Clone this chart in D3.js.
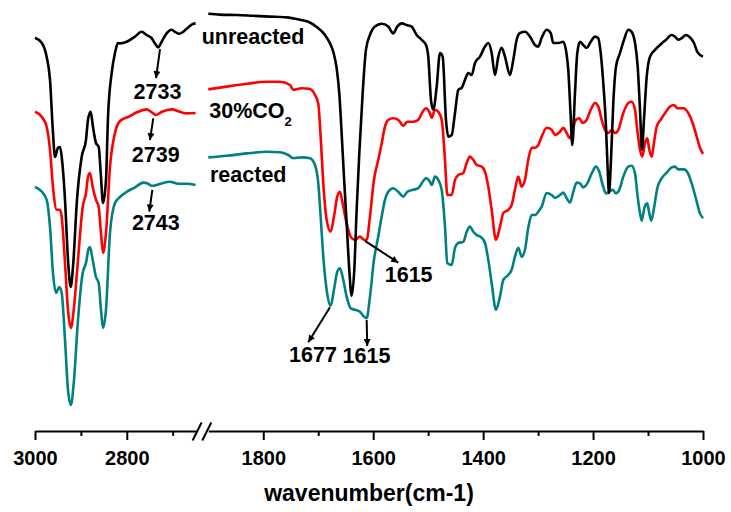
<!DOCTYPE html>
<html lang="en">
<head>
<meta charset="UTF-8">
<title>FTIR spectra</title>
<script src="https://d3js.org/d3.v7.min.js"></script>
<style>
  body { margin: 0; background: #fff; }
  svg { display: block; font-family: "Liberation Sans", Arial, sans-serif; font-weight: bold; }
  .tick text { font-size: 20px; font-weight: bold; fill: #000; }
</style>
</head>
<body>
<svg width="731" height="512"></svg>
<script>
// transmittance (a.u., offset traces) vs wavenumber, two windows of the spectrum
const unreactedHigh = [
  [3000,98.3],[2985,97],[2974.5,93.5],[2967.3,87.8],[2960.8,74.5],[2956.4,68.5],[2949.9,70.8],[2945.5,71],[2941.8,68.5],
  [2934.6,57.8],[2928.1,42.8],[2922.2,36],[2917.2,41],[2908.5,57.8],[2898.3,68.5],[2888.9,72.8],[2884.5,77.8],[2878.7,79.8],
  [2873.6,76],[2867.1,72],[2861.2,71],[2856.2,63.5],[2851.8,57],[2845.3,62.8],[2840.9,78.5],[2832.9,89.5],[2825.7,94.5],
  [2819.2,97],[2814.8,96.9],[2800.2,97.3],[2782.1,98.6],[2767.6,99.8],[2756.7,99],[2745.8,98.2],[2738.6,96.9],[2731.4,95.9],
  [2724,97.3],[2713.1,99.4],[2702.2,100.3],[2695,99.8],[2685.6,99.3],[2677,99.8],[2666,100.9],[2655.1,101.8],[2650,101.9]
];
const unreactedLow = [
  [1900,104.3],[1878.8,104.1],[1848.4,104],[1818.2,103.8],[1787.8,103.6],[1757.4,103.4],[1733.2,102.8],[1718.1,102.3],
  [1702.8,101],[1687.7,99],[1678.6,96.9],[1672.6,94.8],[1666.5,90.7],[1661.7,84.4],[1657.4,74.4],[1653.2,63.6],[1648.3,51.9],
  [1643.5,40.3],[1639.2,33.8],[1634.4,40.3],[1630.1,55.3],[1625.3,69.4],[1619.2,84.4],[1613.2,95.3],[1605.9,99],[1596.8,101.1],
  [1584.6,101.8],[1572.6,101.1],[1563.5,99.4],[1556.2,101.1],[1548.2,101.9],[1539.1,101.5],[1530,101.1],[1520.9,99],
  [1511.8,97.8],[1504,96.5],[1499.8,93.6],[1494.9,82.8],[1490.7,80.3],[1484.5,86.1],[1478.5,94.5],[1473.6,93.6],[1467.6,77.8],
  [1463.4,73.6],[1457.2,74],[1451.2,79.5],[1445.2,85.3],[1439,85.8],[1433,87.8],[1427,89.5],[1420.8,89],[1414.8,92],
  [1405.7,93.6],[1396.6,96.1],[1390.6,97],[1384.5,94.5],[1378.5,89],[1372.4,93.6],[1366.3,95.8],[1360.3,93.6],[1351.2,89],
  [1345.1,92.8],[1339,97.8],[1333,99.5],[1323.9,99.8],[1314.8,98.6],[1305.7,96.5],[1299.7,96.1],[1293.5,98.3],[1284.4,100.3],
  [1277.1,99.5],[1272.4,97],[1263.3,97],[1254.2,97.3],[1248,94],[1245.1,90.3],[1240.7,78.6],[1237.8,71.5],[1232.9,84.5],
  [1228.7,94.5],[1223.8,97.3],[1217.8,96.5],[1211.6,95.8],[1204.3,97.3],[1196.5,98.6],[1190.5,98.2],[1186.1,94.5],[1181.4,87],
  [1176.5,76.1],[1173.4,65.3],[1171,59.5],[1167.4,67.8],[1163.2,82],[1158.3,91.1],[1151,94.5],[1143.7,97.8],[1135.9,100.3],
  [1129.8,99.8],[1123.7,97],[1118.8,91.1],[1114.6,80.3],[1111,70.3],[1107.4,77.8],[1102.4,88.6],[1096.4,93.6],[1087.3,95.3],
  [1078.3,96.5],[1067.3,97.8],[1057,99],[1051,98.6],[1045,97.8],[1038.8,98.2],[1030.9,99],[1022.4,98.2],[1016.4,97],
  [1010.4,94.8],[1000,93.6]
];
const co2High = [
  [3000,79.8],[2985,78.5],[2974.5,76],[2967.3,70.3],[2960.8,61],[2952.7,55.3],[2945.5,55.3],[2941.8,53.5],[2934.6,42],
  [2928.1,30.3],[2921.6,25.8],[2915,31],[2906.3,42.8],[2896.1,56],[2888.9,59.5],[2884.5,63.5],[2880.2,64.5],[2874.3,61],
  [2867.1,57.8],[2861.2,56],[2856.2,49.5],[2851.8,44.5],[2845.3,49.5],[2836.6,66],[2825.7,74.5],[2814.8,77.5],[2797.4,78.5],
  [2775.6,79.8],[2756.7,80.4],[2742.3,79.4],[2736.4,79],[2723.3,79.8],[2702.2,80.4],[2684.1,79.8],[2669.5,79.4],[2650,79.5]
];
const co2Low = [
  [1900,85.4],[1866.6,86.1],[1830.2,86.8],[1793.8,87.3],[1769.6,87.3],[1751.4,86.5],[1745.4,85.3],[1730.1,85.7],[1715,85.5],
  [1705.9,84],[1699.9,81.8],[1695.6,73.6],[1690.8,61.9],[1684.7,52.8],[1677.4,49.8],[1671.4,53.6],[1665.4,58.6],[1660.5,59.8],
  [1654.5,56.1],[1648.3,51.9],[1641,48.6],[1633.2,47.8],[1624.1,48.6],[1616.8,47.8],[1611.9,47.8],[1605.9,53.6],[1598.6,62.8],
  [1590.8,67.8],[1584.6,71.9],[1578.6,76.1],[1572.6,77.8],[1563.5,78.2],[1554.4,77.8],[1545.3,76.3],[1538,77.3],[1527.1,77.3],
  [1518,77.8],[1511.8,79.4],[1504,80.7],[1496.7,79.4],[1493.6,78.3],[1487.6,80.3],[1481.6,79.8],[1475.4,77.8],[1469.4,67.8],
  [1465.2,59],[1457.2,59],[1451.2,62.8],[1445.2,64],[1436.1,64.5],[1429.9,67],[1423.9,68.6],[1417.9,67.8],[1411.7,66.5],
  [1402.6,66.1],[1396.6,64.8],[1390.6,61.1],[1384.5,55.3],[1376.6,47.8],[1369.4,51.1],[1363.3,54.5],[1354.3,55.3],[1348.1,56.5],
  [1342.1,60.3],[1336,63.6],[1329.9,61.1],[1323.9,62.8],[1317.9,67.8],[1311.7,70.8],[1305.7,70.8],[1299.7,71.5],[1293.5,73.6],
  [1284.4,75.8],[1275.3,75.3],[1269.3,74],[1260.2,74.8],[1254.2,75.8],[1248,74.5],[1242,73.2],[1237.1,75.3],[1231.1,77.8],
  [1225.1,78.2],[1218.9,77],[1211.6,77.8],[1204.3,80.3],[1196.5,82],[1190.5,81.1],[1184.3,77.8],[1178.3,75.3],[1172.3,74.5],
  [1166.1,75.3],[1160.1,74.5],[1154.1,75.3],[1145,79.5],[1135.9,82],[1129.8,82.3],[1123.7,80.3],[1119.6,75.3],[1114.6,70.3],
  [1110.5,68.6],[1105.5,72],[1101.4,73.2],[1097.7,70.3],[1093.3,68.6],[1089.2,72],[1084.3,76.1],[1077,77.8],[1069.1,79.5],
  [1060,81.1],[1052.8,81.5],[1046.8,80.7],[1035.8,80.7],[1026.8,79.5],[1018.8,77],[1011.5,73.6],[1005.5,70.8],[1000,69.3]
];
const reactedHigh = [
  [3000,61],[2985,59.8],[2974.5,57.8],[2967.3,51],[2960.8,39.5],[2954.3,34.5],[2947.1,36],[2941.8,34.5],[2934.6,22.8],
  [2928.1,10.3],[2921.6,6.5],[2915,12.8],[2906.3,27.8],[2896.1,39.5],[2888.9,42],[2883.9,45.3],[2880.2,46],[2874.3,42.8],
  [2867.1,38.5],[2861.2,37],[2856.2,30.3],[2851.8,25.8],[2845.3,30.3],[2836.6,49.5],[2825.7,57],[2814.8,58.5],[2800.2,59.8],
  [2782.1,60.9],[2764.1,62.1],[2753.2,61.8],[2745.8,61.3],[2738.6,61.4],[2724,61.9],[2705.9,62.3],[2687.8,61.8],[2669.5,61.8],
  [2650,61.5]
];
const reactedLow = [
  [1900,68.4],[1866.6,68.8],[1830.2,69.4],[1793.8,69.8],[1769.6,69.7],[1754.5,69],[1745.4,68.2],[1730.1,68.4],[1715,68.2],
  [1705.9,66.5],[1699.9,61.9],[1695.6,53.6],[1690.8,43.6],[1684.7,35.3],[1677.4,31.3],[1671.4,35.3],[1665.4,39.8],[1660.5,40.7],
  [1654.5,37.8],[1648.3,33.6],[1641,30.7],[1633.2,30.3],[1624.1,29.8],[1616.8,28.6],[1611.9,28.2],[1605.9,33.6],[1598.6,42.8],
  [1590.8,48.6],[1584.6,53.6],[1578.6,57.8],[1572.6,59.8],[1563.5,60.7],[1554.4,59.8],[1545.3,58.6],[1538,59.8],[1527.1,60.3],
  [1518,60.7],[1511.8,61.9],[1504,63.2],[1496.7,62.3],[1493.6,61.5],[1487.6,63.6],[1481.6,62.8],[1475.4,60.3],[1469.4,51.1],
  [1465.2,42],[1457.2,41.5],[1451.2,45.8],[1445.2,47],[1436.1,47.3],[1429.9,49.8],[1423.9,51.1],[1417.9,49.8],[1411.7,49],
  [1402.6,48.3],[1396.6,47],[1390.6,42.8],[1384.5,37],[1376.6,30.3],[1369.4,33.6],[1363.3,37.8],[1354.3,39],[1348.1,40.3],
  [1342.1,43.6],[1336,45.8],[1329.9,43.6],[1323.9,45.3],[1317.9,50.8],[1311.7,54],[1305.7,54],[1299.7,54.8],[1293.5,56.1],
  [1284.4,59.5],[1275.3,59],[1269.3,58.3],[1260.2,59],[1254.2,59.6],[1248,58.2],[1242,57.1],[1236,59.8],[1229.8,62.1],
  [1223.8,61.9],[1217.8,60.9],[1210.5,61.9],[1202.5,64.4],[1194.7,66.1],[1188.7,64.8],[1182.5,61.5],[1176.5,59.4],[1170.5,59.8],
  [1164.3,60.3],[1158.3,59.4],[1152.3,60.3],[1145,63.6],[1135.9,66.1],[1129.8,66.3],[1123.7,64.4],[1119.6,59.4],[1114.6,54.4],
  [1111.5,52.6],[1106.8,55.7],[1101.4,56.9],[1097.7,54.4],[1094.1,52.6],[1089.2,55.7],[1083.2,60.7],[1075.1,63.2],[1066,64.6],
  [1057,65.9],[1051,66.1],[1045,65.4],[1034.6,65.4],[1026.8,64.3],[1018.8,61.1],[1011.5,57.4],[1005.5,54.4],[1000,53.2]
];

const majorTicksHigh = [3000, 2800];
const minorTicksHigh = [2900, 2700];
const majorTicksLow = [1800, 1600, 1400, 1200, 1000];
const minorTicksLow = [1700, 1500, 1300, 1100];

const peakLabels = ["2733", "2739", "2743", "1615", "1677", "1615"];
const peakWn = [2733, 2739, 2743, 1615, 1677, 1615];
const peakSeries = ["unreacted", "co2", "reacted", "co2", "reacted", "reacted"];

const svg = d3.select("svg");
const axisY = 431;

const xHigh = d3.scaleLinear().domain([3000, 2650]).range([35, 195.6]);
const xLow = d3.scaleLinear().domain([1900, 1000]).range([208.3, 703]);
const y = d3.scaleLinear().domain([0, 100]).range([axisY, 31]);

const series = [
  { key: "reacted", color: "#008080", high: reactedHigh, low: reactedLow },
  { key: "co2", color: "#ff0000", high: co2High, low: co2Low },
  { key: "unreacted", color: "#000000", high: unreactedHigh, low: unreactedLow }
];

function lineFor(scale) {
  return d3.line().x(d => scale(d[0])).y(d => y(d[1])).curve(d3.curveMonotoneX);
}

series.forEach(s => {
  [[s.high, xHigh], [s.low, xLow]].forEach(([data, scale]) => {
    svg.append("path")
      .datum(data)
      .attr("fill", "none")
      .attr("stroke", s.color)
      .attr("stroke-width", 2.6)
      .attr("stroke-linejoin", "round")
      .attr("d", lineFor(scale));
  });
});

// axes
function drawAxis(scale, major, minor) {
  const g = svg.append("g").attr("transform", `translate(0,${axisY})`);
  g.call(d3.axisBottom(scale).tickValues(major).tickSize(9).tickSizeOuter(0)
      .tickPadding(11).tickFormat(d3.format("d")));
  g.append("g").call(d3.axisBottom(scale).tickValues(minor).tickSize(5).tickFormat(""))
    .select(".domain").remove();
  g.selectAll("path, line").attr("stroke", "#000").attr("stroke-width", 2);
  g.selectAll(".tick text").attr("font-family", null).attr("font-size", null);
}
drawAxis(xHigh, majorTicksHigh, minorTicksHigh);
drawAxis(xLow, majorTicksLow, minorTicksLow);

// axis break marks
[xHigh.range()[1] + 1.5, xLow.range()[0] - 1.5].forEach(cx => {
  svg.append("line")
    .attr("x1", cx - 4.5).attr("y1", axisY + 9.5)
    .attr("x2", cx + 4.5).attr("y2", axisY - 8.5)
    .attr("stroke", "#000").attr("stroke-width", 2);
});

svg.append("text")
  .attr("x", (xHigh.range()[0] + xLow.range()[1]) / 2)
  .attr("y", 501)
  .attr("text-anchor", "middle")
  .attr("font-size", 23)
  .text("wavenumber(cm-1)");

// series labels
const labelFont = 21.5;
svg.append("text").attr("x", 201.7).attr("y", 44).attr("font-size", labelFont).text("unreacted");
const co2Label = svg.append("text").attr("x", 209.3).attr("y", 118.3).attr("font-size", labelFont).text("30%CO");
co2Label.append("tspan").attr("font-size", 13).attr("dy", 7.5).text("2");
svg.append("text").attr("x", 210).attr("y", 182.3).attr("font-size", labelFont).text("reacted");

// peak annotations
svg.append("defs").append("marker")
  .attr("id", "arrow")
  .attr("viewBox", "0 0 10 10")
  .attr("refX", 10).attr("refY", 5)
  .attr("markerWidth", 10).attr("markerHeight", 7)
  .attr("markerUnits", "userSpaceOnUse")
  .attr("orient", "auto")
  .append("path").attr("d", "M0,0L10,5L0,10Z").attr("fill", "#000");

function valueAt(data, wn) {
  for (let i = 0; i < data.length - 1; i++) {
    const a = data[i], b = data[i + 1];
    if (wn <= a[0] && wn >= b[0]) return a[1] + (b[1] - a[1]) * (a[0] - wn) / (a[0] - b[0]);
  }
  return data[data.length - 1][1];
}

// offsets from the peak point: arrow start, arrow tip, label (centre, baseline)
const peakLayout = [
  { start: [2.5, 2.7], tip: [-1.5, 31.7], text: [0, 52.7] },
  { start: [-1.5, 4.1], tip: [-4.8, 25.8], text: [1, 48.1] },
  { start: [-0.6, 4.2], tip: [-3.6, 25.9], text: [2.9, 44.2] },
  { start: [0, 1], tip: [33.3, 22.9], text: [43.7, 41.9] },
  { start: [-0.9, 2.5], tip: [-22.6, 37.5], text: [-17.9, 56.9] },
  { start: [1.7, 2.8], tip: [2.3, 28.8], text: [1.5, 45.5] }
];

peakLabels.forEach((label, i) => {
  const s = series.find(d => d.key === peakSeries[i]);
  const high = peakWn[i] > 2000;
  const cx = (high ? xHigh : xLow)(peakWn[i]);
  const cy = y(valueAt(high ? s.high : s.low, peakWn[i]));
  const L = peakLayout[i];
  svg.append("line")
    .attr("x1", cx + L.start[0]).attr("y1", cy + L.start[1])
    .attr("x2", cx + L.tip[0]).attr("y2", cy + L.tip[1])
    .attr("stroke", "#000").attr("stroke-width", 2)
    .attr("marker-end", "url(#arrow)");
  svg.append("text")
    .attr("x", cx + L.text[0]).attr("y", cy + L.text[1])
    .attr("text-anchor", "middle")
    .attr("font-size", labelFont)
    .text(label);
});
</script>
</body>
</html>
